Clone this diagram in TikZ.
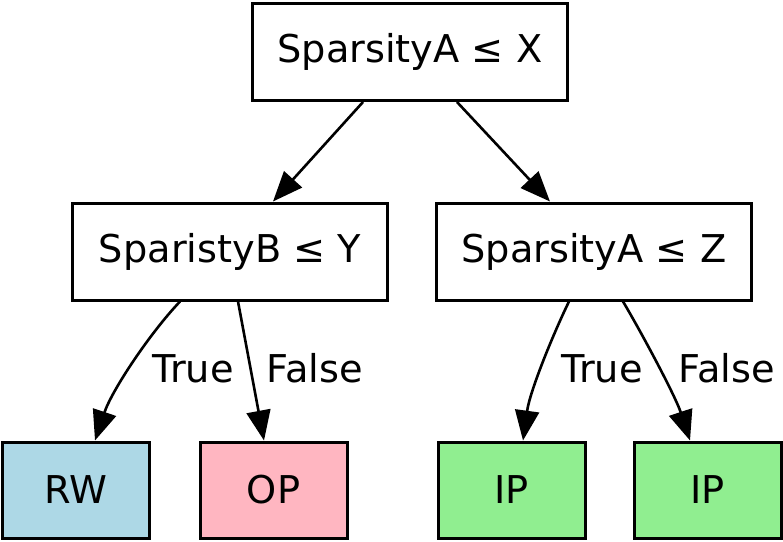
\documentclass[tikz,border=0pt]{standalone}
\usepackage{fontspec}
\setmainfont{DejaVu Sans}
\usetikzlibrary{arrows.meta}

\definecolor{rwblue}{RGB}{173,216,230}
\definecolor{oppink}{RGB}{255,182,193}
\definecolor{ipgreen}{RGB}{144,238,144}

\tikzset{
    test/.style={draw, line width=3pt, inner sep=0pt, minimum width=315pt,
        minimum height=97pt, font=\fontsize{38.3}{46}\selectfont},
    leaf/.style={draw, line width=3pt, inner sep=0pt, minimum width=147pt,
        minimum height=96pt, font=\fontsize{38.3}{46}\selectfont},
    edge/.style={-{Triangle[length=30pt,width=24pt]}, line width=2.6pt},
    lbl/.style={anchor=base, inner sep=0pt, font=\fontsize{38.3}{46}\selectfont}
}

\begin{document}
\begin{tikzpicture}[x=1pt, y=-1pt]
        \useasboundingbox (0,0) rectangle (783,541);

        % decision nodes
        \node[test] (root) at (410,52) {SparsityA ≤ X};
        \node[test] (sparB) at (230,251.5) {SparistyB ≤ Y};
        \node[test] (sparZ) at (594,251.5) {SparsityA ≤ Z};

        % leaves
        \node[leaf, fill=rwblue] (rw) at (75.5,490) {RW};
        \node[leaf, fill=oppink] (op) at (273.5,490) {OP};
        \node[leaf, fill=ipgreen] (ipA) at (511.5,490) {IP};
        \node[leaf, fill=ipgreen] (ipB) at (707.5,490) {IP};

        % branch labels
        \node[lbl] (trueB) at (193,382) {True};
        \node[lbl] (falseB) at (315,382) {False};
        \node[lbl] (trueZ) at (602,382) {True};
        \node[lbl] (falseZ) at (727,382) {False};

        \draw[edge] ([xshift=-47pt]root.south) -- ([xshift=43pt]sparB.north);
        \draw[edge] ([xshift=47pt]root.south) -- ([xshift=-44pt]sparZ.north);
        \draw[edge] ([xshift=-50pt]sparB.south) .. controls (150,333) and (112,390) .. ([xshift=19.5pt]rw.north);
        \draw[edge] ([xshift=8pt]sparB.south) -- ([xshift=-9.5pt]op.north);
        \draw[edge] ([xshift=-25pt]sparZ.south) .. controls (555,330) and (530,390) .. ([xshift=11.5pt]ipA.north);
        \draw[edge] ([xshift=29pt]sparZ.south) .. controls (640,330) and (675,395) .. ([xshift=-17.5pt]ipB.north);
    \end{tikzpicture}
\end{document}
